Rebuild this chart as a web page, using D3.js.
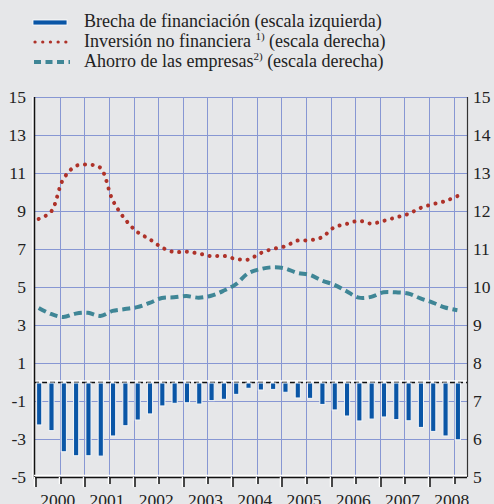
<!DOCTYPE html>
<html>
<head>
<meta charset="utf-8">
<script src="https://cdn.jsdelivr.net/npm/d3@7"></script>
<style>
  body { margin: 0; background: #e6e7e9; }
  svg { display: block; }
  text { font-family: "Liberation Serif", "Times New Roman", "DejaVu Serif", serif; }
</style>
</head>
<body>
<svg width="494" height="504"></svg>
<script>
// quarters 2000T1 .. 2008T3
var quarters = [];
for (var yr = 2000; yr <= 2008; yr++) {
    for (var q = 1; q <= 4; q++) {
        if (yr === 2008 && q === 4) break;
        quarters.push(yr + "T" + q);
    }
}

// Brecha de financiación (escala izquierda)
var brecha = [-2.26, -2.56, -3.67, -3.88, -3.88, -3.9, -2.84, -2.3,
              -2.0, -1.68, -1.26, -1.12, -1.09, -1.16, -0.98, -0.91,
              -0.65, -0.33, -0.42, -0.39, -0.54, -0.84, -0.86, -1.18,
              -1.47, -1.79, -2.05, -1.95, -1.84, -1.98, -2.04, -2.39,
              -2.6, -2.84, -3.04];

// Inversión no financiera (escala derecha)
var inversion = [11.79, 11.98, 12.84, 13.18, 13.22, 13.14, 12.29, 11.79,
                 11.45, 11.26, 11.04, 10.92, 10.93, 10.88, 10.81, 10.82,
                 10.74, 10.72, 10.89, 11.0, 11.07, 11.22, 11.23, 11.31,
                 11.57, 11.66, 11.74, 11.67, 11.74, 11.83, 11.92, 12.08,
                 12.18, 12.26, 12.39];

// Ahorro de las empresas (escala derecha)
var ahorro = [9.45, 9.29, 9.21, 9.3, 9.32, 9.24, 9.37, 9.42,
              9.47, 9.58, 9.71, 9.73, 9.76, 9.72, 9.77, 9.9,
              10.07, 10.36, 10.47, 10.52, 10.49, 10.37, 10.32, 10.17,
              10.06, 9.89, 9.72, 9.74, 9.86, 9.86, 9.83, 9.7,
              9.59, 9.46, 9.39];

var years = [2000, 2001, 2002, 2003, 2004, 2005, 2006, 2007, 2008];
var leftTicks = [-5, -3, -1, 1, 3, 5, 7, 9, 11, 13, 15];
var rightTicks = [5, 6, 7, 8, 9, 10, 11, 12, 13, 14, 15];

var svg = d3.select("svg");
var pLeft = 34, pRight = 467, pTop = 97, pBottom = 477;

var xTime = d3.scaleLinear().domain([2000, 2008.75]).range([35, 466]);
var xb = d3.scaleBand().domain(quarters).range([35, 466]);
var bw = xb.bandwidth();
var yL = d3.scaleLinear().domain([-5, 15]).range([pBottom, pTop]);
var yR = d3.scaleLinear().domain([5, 15]).range([pBottom, pTop]);

// grid
var halfYears = [];
for (var h = 2000.5; h < 2008.75; h += 0.5) halfYears.push(h);

svg.append("g").selectAll("line").data(leftTicks.filter(function(d) { return d > -5; }))
    .enter().append("line")
    .attr("x1", pLeft).attr("x2", pRight)
    .attr("y1", function(d) { return Math.round(yL(d)) + 0.5; })
    .attr("y2", function(d) { return Math.round(yL(d)) + 0.5; })
    .attr("stroke", "#8797d3").attr("stroke-width", 1);

svg.append("g").selectAll("line").data(halfYears)
    .enter().append("line")
    .attr("x1", function(d) { return Math.round(xTime(d)) + 0.5; })
    .attr("x2", function(d) { return Math.round(xTime(d)) + 0.5; })
    .attr("y1", pTop).attr("y2", pBottom)
    .attr("stroke", "#8797d3").attr("stroke-width", 1);

// zero line
svg.append("line").attr("x1", pLeft).attr("x2", pRight)
    .attr("y1", yL(0) - 1).attr("y2", yL(0) - 1)
    .attr("stroke", "#fff").attr("stroke-width", 1.5);
svg.append("line").attr("x1", pLeft).attr("x2", pRight)
    .attr("y1", yL(0) + 0.5).attr("y2", yL(0) + 0.5)
    .attr("stroke", "#111").attr("stroke-width", 1.3)
    .attr("stroke-dasharray", "5 3");

// bars
svg.append("g").selectAll("rect").data(brecha)
    .enter().append("rect")
    .attr("x", function(d, i) { return xb(quarters[i]) + bw * 0.13; })
    .attr("y", yL(0) + 1)
    .attr("width", bw * 0.42)
    .attr("height", function(d) { return yL(d) - yL(0) - 1; })
    .attr("fill", "#0a56a6")
    .attr("stroke", "#f4f6f8").attr("stroke-width", 1);

// lines
var lineR = d3.line()
    .x(function(d, i) { return xb(quarters[i]) + bw * 0.3; })
    .y(function(d) { return yR(d); })
    .curve(d3.curveCatmullRom.alpha(0.5));

svg.append("path").datum(ahorro)
    .attr("d", lineR)
    .attr("fill", "none")
    .attr("stroke", "#3f8696")
    .attr("stroke-width", 4)
    .attr("stroke-dasharray", "8 4.5");

svg.append("path").datum(inversion)
    .attr("d", lineR)
    .attr("fill", "none")
    .attr("stroke", "#ae3229")
    .attr("stroke-width", 4)
    .attr("stroke-linecap", "round")
    .attr("stroke-dasharray", "0.1 7.6");

// axes lines
svg.append("line").attr("x1", pLeft - 1).attr("x2", pLeft - 1).attr("y1", pTop).attr("y2", pBottom + 2)
    .attr("stroke", "#fff").attr("stroke-width", 1.5);
svg.append("line").attr("x1", pLeft + 0.5).attr("x2", pLeft + 0.5).attr("y1", pTop).attr("y2", pBottom + 2)
    .attr("stroke", "#111").attr("stroke-width", 1.5);
svg.append("line").attr("x1", pRight + 0.5).attr("x2", pRight + 0.5).attr("y1", pTop).attr("y2", pBottom)
    .attr("stroke", "#333").attr("stroke-width", 1.2);

// bottom axis
svg.append("line").attr("x1", pLeft).attr("x2", pRight).attr("y1", pBottom - 1.5).attr("y2", pBottom - 1.5)
    .attr("stroke", "#fff").attr("stroke-width", 1.5);
svg.append("line").attr("x1", pLeft).attr("x2", pRight).attr("y1", pBottom + 0.5).attr("y2", pBottom + 0.5)
    .attr("stroke", "#111").attr("stroke-width", 1.5);

var allTicks = [2000].concat(halfYears);
svg.append("g").selectAll("line").data(allTicks)
    .enter().append("line")
    .attr("x1", function(d) { return Math.round(xTime(d)) - 0.5; })
    .attr("x2", function(d) { return Math.round(xTime(d)) - 0.5; })
    .attr("y1", pBottom).attr("y2", function(d) { return d % 1 === 0 ? pBottom + 10 : pBottom + 7; })
    .attr("stroke", "#fff").attr("stroke-width", 1.5);
svg.append("g").selectAll("line").data(allTicks)
    .enter().append("line")
    .attr("x1", function(d) { return Math.round(xTime(d)) + 1; })
    .attr("x2", function(d) { return Math.round(xTime(d)) + 1; })
    .attr("y1", pBottom).attr("y2", function(d) { return d % 1 === 0 ? pBottom + 10 : pBottom + 7; })
    .attr("stroke", "#111").attr("stroke-width", 1.5);

// tick labels
svg.append("g").selectAll("text").data(leftTicks)
    .enter().append("text")
    .attr("x", 26).attr("y", function(d) { return yL(d) + 6; })
    .attr("text-anchor", "end")
    .attr("font-size", 17.5).attr("fill", "#222")
    .text(function(d) { return d; });

svg.append("g").selectAll("text").data(rightTicks)
    .enter().append("text")
    .attr("x", 473).attr("y", function(d) { return yR(d) + 6; })
    .attr("text-anchor", "start")
    .attr("font-size", 17.5).attr("fill", "#222")
    .text(function(d) { return d; });

svg.append("g").selectAll("text").data(years)
    .enter().append("text")
    .attr("x", function(d) { return xTime(d + 0.5) - 2; })
    .attr("y", 506)
    .attr("text-anchor", "middle")
    .attr("font-size", 17.5).attr("fill", "#222")
    .text(function(d) { return d; });

// legend
var leg = svg.append("g");
leg.append("rect").attr("x", 33).attr("y", 20).attr("width", 34).attr("height", 5)
    .attr("fill", "#0a56a6").attr("stroke", "#fff").attr("stroke-width", 0.8);
leg.append("line").attr("x1", 35).attr("x2", 70).attr("y1", 42).attr("y2", 42)
    .attr("stroke", "#ae3229").attr("stroke-width", 3.2)
    .attr("stroke-linecap", "round").attr("stroke-dasharray", "0.1 7.6");
leg.append("line").attr("x1", 34).attr("x2", 70).attr("y1", 62).attr("y2", 62)
    .attr("stroke", "#3f8696").attr("stroke-width", 4).attr("stroke-dasharray", "7 4.5");

var t1 = leg.append("text").attr("x", 84).attr("y", 27).attr("font-size", 18).attr("fill", "#222");
t1.text("Brecha de financiación (escala izquierda)");

var t2 = leg.append("text").attr("x", 84).attr("y", 47).attr("font-size", 18).attr("fill", "#222");
t2.append("tspan").text("Inversión no financiera ");
t2.append("tspan").attr("font-size", 11).attr("dy", -7).text("1)");
t2.append("tspan").attr("dy", 7).text(" (escala derecha)");

var t3 = leg.append("text").attr("x", 84).attr("y", 67).attr("font-size", 18).attr("fill", "#222");
t3.append("tspan").text("Ahorro de las empresas");
t3.append("tspan").attr("font-size", 11).attr("dy", -7).text("2)");
t3.append("tspan").attr("dy", 7).text(" (escala derecha)");
</script>
</body>
</html>
